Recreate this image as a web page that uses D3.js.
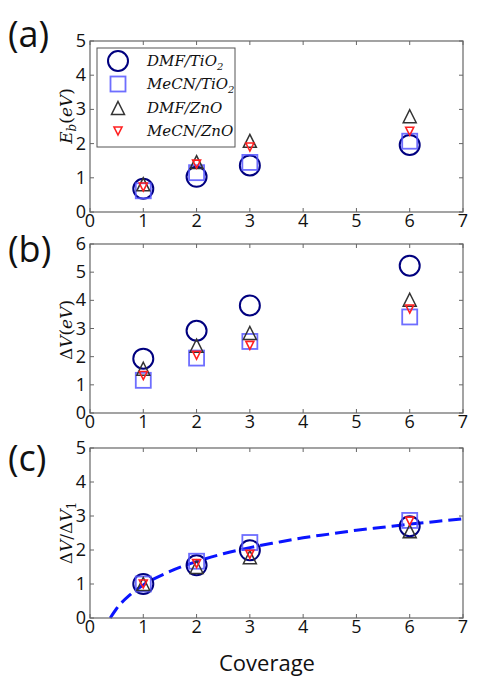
<!DOCTYPE html>
<html><head><meta charset="utf-8">
<script src="https://cdn.jsdelivr.net/npm/d3@7"></script>
<style>
html,body{margin:0;padding:0;background:#fff;}
svg{display:block;}
</style></head>
<body>
<svg id="chart" width="487" height="688"></svg>
<script>
// ---- data ----
const coverage = [1, 2, 3, 6];
const xTicks = [0, 1, 2, 3, 4, 5, 6, 7];
const seriesNames = ["DMF/TiO", "MeCN/TiO", "DMF/ZnO", "MeCN/ZnO"];
const seriesSub = ["2", "2", "", ""];
// panel (a) E_b (eV)
const ebDMFTiO2 = [0.68, 1.03, 1.36, 1.96];
const ebMeCNTiO2 = [0.62, 1.15, 1.45, 2.07];
const ebDMFZnO = [0.81, 1.46, 2.08, 2.8];
const ebMeCNZnO = [0.73, 1.4, 1.9, 2.36];
// panel (b) ΔV (eV)
const dvDMFTiO2 = [1.93, 2.92, 3.82, 5.23];
const dvMeCNTiO2 = [1.16, 1.95, 2.54, 3.41];
const dvDMFZnO = [1.57, 2.39, 2.84, 4.02];
const dvMeCNZnO = [1.33, 2.05, 2.4, 3.69];
// panel (c) ΔV/ΔV1
const ratioDMFTiO2 = [1.0, 1.55, 1.99, 2.7];
const ratioMeCNTiO2 = [1.0, 1.67, 2.22, 2.87];
const ratioDMFZnO = [1.0, 1.5, 1.79, 2.55];
const ratioMeCNZnO = [1.0, 1.6, 1.87, 2.85];
// fitted dashed curve
const fitX = [0.38, 0.5, 0.75, 1, 1.5, 2, 2.5, 3, 3.5, 4, 4.5, 5, 5.5, 6, 6.5, 7];
const fitY = [0.0, 0.28, 0.68, 0.97, 1.37, 1.66, 1.89, 2.07, 2.22, 2.36, 2.47, 2.58, 2.67, 2.76, 2.84, 2.92];
const yTicksA = [0, 1, 2, 3, 4, 5];
const yTicksB = [0, 1, 2, 3, 4, 5, 6];
const yTicksC = [0, 1, 2, 3, 4, 5];

// ---- layout ----
const svg = d3.select("#chart");
const L = 90, R = 463;
const panels = [
  {top: 41, bottom: 212, ymax: 5, ticks: yTicksA, label: "(a)", labY: 47,
   data: [ebDMFTiO2, ebMeCNTiO2, ebDMFZnO, ebMeCNZnO], legend: true},
  {top: 244, bottom: 413, ymax: 6, ticks: yTicksB, label: "(b)", labY: 262,
   data: [dvDMFTiO2, dvMeCNTiO2, dvDMFZnO, dvMeCNZnO]},
  {top: 448, bottom: 618, ymax: 5, ticks: yTicksC, label: "(c)", labY: 471,
   data: [ratioDMFTiO2, ratioMeCNTiO2, ratioDMFZnO, ratioMeCNZnO], fit: true}
];

const sansFont = "'Open Sans', 'DejaVu Sans', sans-serif";
const serifFont = "'DejaVu Serif', 'Liberation Serif', serif";

const styles = [
  {type: "circle", color: "#00007f"},
  {type: "square", color: "#5555ff"},
  {type: "up", color: "#333333"},
  {type: "down", color: "#ff2020"}
];

function drawMarker(g, type, color, cx, cy, scale) {
  scale = scale || 1;
  if (type === "circle") {
    g.append("circle").attr("cx", cx).attr("cy", cy).attr("r", 10 * scale)
      .attr("fill", "none").attr("stroke", color).attr("stroke-width", 2);
  } else if (type === "square") {
    const s = 15 * scale;
    g.append("rect").attr("x", cx - s / 2).attr("y", cy - s / 2).attr("width", s).attr("height", s)
      .attr("fill", "none").attr("stroke", color).attr("stroke-width", 1.8).attr("stroke-opacity", 0.85);
  } else if (type === "up") {
    const h = 6.5 * scale;
    g.append("path").attr("transform", `translate(${cx},${cy})`)
      .attr("d", `M0,${-h}L${h},${h}L${-h},${h}Z`)
      .attr("fill", "none").attr("stroke", color).attr("stroke-width", 1.5);
  } else {
    const h = 4 * scale;
    g.append("path").attr("transform", `translate(${cx},${cy})`)
      .attr("d", `M0,${h}L${h},${-h}L${-h},${-h}Z`)
      .attr("fill", "none").attr("stroke", color).attr("stroke-width", 1.6);
  }
}

panels.forEach((p, pi) => {
  const x = d3.scaleLinear().domain([0, 7]).range([L, R]);
  const y = d3.scaleLinear().domain([0, p.ymax]).range([p.bottom, p.top]);
  const g = svg.append("g");

  // inner ticks (all four sides)
  const tk = g.append("g").attr("stroke", "#666").attr("stroke-width", 1);
  xTicks.forEach(t => {
    tk.append("line").attr("x1", x(t)).attr("x2", x(t)).attr("y1", p.bottom).attr("y2", p.bottom - 4);
    tk.append("line").attr("x1", x(t)).attr("x2", x(t)).attr("y1", p.top).attr("y2", p.top + 4);
  });
  p.ticks.forEach(t => {
    tk.append("line").attr("x1", L).attr("x2", L + 4).attr("y1", y(t)).attr("y2", y(t));
    tk.append("line").attr("x1", R).attr("x2", R - 4).attr("y1", y(t)).attr("y2", y(t));
  });

  // tick labels
  xTicks.forEach(t => {
    g.append("text").attr("x", x(t)).attr("y", p.bottom + 15).attr("text-anchor", "middle")
      .attr("font-family", sansFont).attr("font-size", 18).attr("fill", "#111").text(t);
  });
  p.ticks.forEach(t => {
    g.append("text").attr("x", 86).attr("y", y(t) + 6).attr("text-anchor", "end")
      .attr("font-family", sansFont).attr("font-size", 18).attr("fill", "#111").text(t);
  });

  // fit curve
  if (p.fit) {
    const pts = fitX.map((v, i) => [v, fitY[i]]);
    g.append("path").datum(pts)
      .attr("d", d3.line().x(d => x(d[0])).y(d => y(d[1])).curve(d3.curveMonotoneX))
      .attr("fill", "none").attr("stroke", "#0a14ff").attr("stroke-width", 3)
      .attr("stroke-dasharray", "13,6");
  }

  // markers
  p.data.forEach((vals, si) => {
    const st = styles[si];
    vals.forEach((v, i) => drawMarker(g, st.type, st.color, x(coverage[i]), y(v)));
  });

  // frame
  g.append("rect").attr("x", L).attr("y", p.top).attr("width", R - L).attr("height", p.bottom - p.top)
    .attr("fill", "none").attr("stroke", "#666").attr("stroke-width", 1.2);

  // panel label
  svg.append("text").attr("x", 8).attr("y", p.labY).attr("font-family", sansFont)
    .attr("font-size", 36).attr("fill", "#111").text(p.label);

  // legend
  if (p.legend) {
    const lg = g.append("g");
    lg.append("rect").attr("x", 97).attr("y", 48).attr("width", 138).attr("height", 99)
      .attr("fill", "#fff").attr("stroke", "#555").attr("stroke-width", 1);
    const ys = [61, 84, 108, 131];
    styles.forEach((st, i) => {
      drawMarker(lg, st.type, st.color, 118, ys[i]);
      const t = lg.append("text").attr("x", 147).attr("y", ys[i] + 5)
        .attr("font-family", serifFont).attr("font-style", "italic").attr("font-size", 15)
        .attr("fill", "#111").text(seriesNames[i]);
      if (seriesSub[i]) {
        t.append("tspan").attr("font-size", 10).attr("dy", 4).text(seriesSub[i]);
      }
    });
  }
});

// y axis titles
function yTitle(cy, build) {
  const t = svg.append("text").attr("transform", `translate(72,${cy}) rotate(-90)`)
    .attr("text-anchor", "middle").attr("font-family", serifFont).attr("font-size", 17).attr("fill", "#111");
  build(t);
}
yTitle(116, t => {
  t.append("tspan").attr("font-style", "italic").text("E");
  t.append("tspan").attr("font-style", "italic").attr("font-size", 12).attr("dy", 4).text("b");
  t.append("tspan").attr("dy", -4).text("(");
  t.append("tspan").attr("font-style", "italic").text("eV");
  t.append("tspan").text(")");
});
yTitle(330, t => {
  t.append("tspan").text("Δ");
  t.append("tspan").attr("font-style", "italic").text("V");
  t.append("tspan").text("(");
  t.append("tspan").attr("font-style", "italic").text("eV");
  t.append("tspan").text(")");
});
yTitle(533, t => {
  t.append("tspan").text("Δ");
  t.append("tspan").attr("font-style", "italic").text("V");
  t.append("tspan").text("/Δ");
  t.append("tspan").attr("font-style", "italic").text("V");
  t.append("tspan").attr("font-size", 12).attr("dy", 4).text("1");
});

// x axis title
svg.append("text").attr("x", 267).attr("y", 671).attr("text-anchor", "middle")
  .attr("font-family", sansFont).attr("font-size", 22).attr("fill", "#111").text("Coverage");
</script>
</body></html>
